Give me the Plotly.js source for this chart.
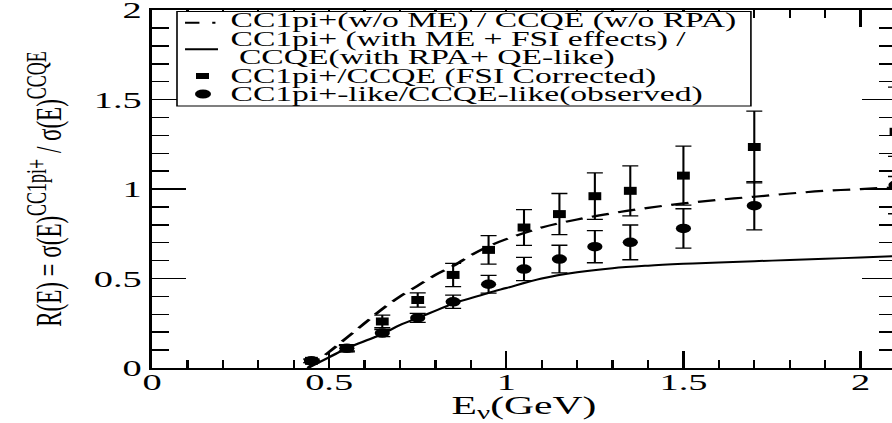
<!DOCTYPE html>
<html>
<head>
<meta charset="utf-8">
<script src="https://cdn.plot.ly/plotly-3.0.1.min.js"></script>
<style>
html, body { margin:0; padding:0; width:892px; height:423px; overflow:hidden; background:#fff; }
#wrap { width:565px; height:423px; transform:scaleX(1.6); transform-origin:0 0; }
</style>
</head>
<body>
<div id="wrap"><div id="plot"></div></div>
<script>
// ---- data ----
const energyPts = [0.45, 0.55, 0.65, 0.75, 0.85, 0.95, 1.05, 1.15, 1.25, 1.35, 1.5, 1.7, 2.1];
const fsiCorrected = [0.04, 0.11, 0.26, 0.38, 0.52, 0.66, 0.785, 0.86, 0.96, 0.99, 1.075, 1.235, 1.32];
const fsiCorrectedErr = [0.01, 0.02, 0.035, 0.04, 0.065, 0.08, 0.10, 0.115, 0.13, 0.14, 0.165, 0.2, 0.25];
const observed = [0.04, 0.11, 0.195, 0.28, 0.37, 0.468, 0.553, 0.609, 0.678, 0.702, 0.78, 0.907, 1.022];
const observedErr = [0.01, 0.015, 0.02, 0.025, 0.037, 0.05, 0.065, 0.077, 0.09, 0.097, 0.11, 0.135, 0.16];

const curveE = [0.44, 0.5, 0.55, 0.6, 0.65, 0.7, 0.75, 0.8, 0.85, 0.9, 0.95, 1.0, 1.1, 1.2, 1.3, 1.4, 1.5, 1.6, 1.7, 1.8, 1.9, 2.0, 2.1];
const ratioNoME = [0, 0.09, 0.17, 0.25, 0.33, 0.40, 0.46, 0.52, 0.57, 0.63, 0.68, 0.72, 0.785, 0.83, 0.865, 0.895, 0.92, 0.94, 0.957, 0.975, 0.99, 1.0, 1.01];
const ratioWithME = [0, 0.06, 0.11, 0.15, 0.19, 0.24, 0.28, 0.32, 0.36, 0.39, 0.42, 0.447, 0.50, 0.535, 0.558, 0.572, 0.582, 0.59, 0.597, 0.603, 0.61, 0.618, 0.625];

const legendLabels = [
  "CC1pi+(w/o ME) / CCQE (w/o RPA)",
  "CC1pi+ (with ME + FSI effects) /",
  " CCQE(with RPA+ QE-like)",
  "CC1pi+/CCQE (FSI Corrected)",
  "CC1pi+-like/CCQE-like(observed)"
];
const xTickVals = [0, 0.5, 1, 1.5, 2];
const xTickText = ["0", "0.5", "1", "1.5", "2"];
const yTickVals = [0, 0.5, 1, 1.5, 2];
const yTickText = ["0", "0.5", "1", "1.5", "2"];

// ---- traces ----
const FONT = "Liberation Serif, Times New Roman, serif";
const traces = [
  { x: curveE, y: ratioNoME, mode: "lines", name: legendLabels[0],
    line: { color: "#000", width: 2.2, dash: "11px,6px", shape: "spline" }, hoverinfo: "skip" },
  { x: curveE, y: ratioWithME, mode: "lines", name: legendLabels[1],
    line: { color: "#000", width: 2, shape: "spline" }, hoverinfo: "skip" },
  { x: energyPts, y: fsiCorrected, mode: "markers", name: legendLabels[3],
    marker: { symbol: "square", size: 8, color: "#000" },
    error_y: { type: "data", array: fsiCorrectedErr, visible: true, color: "#000", thickness: 1.3, width: 5 } },
  { x: energyPts, y: observed, mode: "markers", name: legendLabels[4],
    marker: { symbol: "circle", size: 9.5, color: "#000" },
    error_y: { type: "data", array: observedErr, visible: true, color: "#000", thickness: 1.3, width: 5 } }
];

// ---- hand-made legend (tight line spacing as in the reference) ----
const legTextY = [0.9707, 0.919, 0.8687, 0.8156, 0.764];
const annotations = legendLabels.map((t, i) => ({
  xref: "paper", yref: "paper", x: 0.102, y: legTextY[i],
  xanchor: "left", yanchor: "middle", text: t, showarrow: false,
  font: { family: FONT, size: 21, color: "#000" }
}));
const shapes = [
  { type: "rect", xref: "paper", yref: "paper", x0: 0.0336, x1: 0.805, y0: 0.732, y1: 0.996,
    line: { color: "#000", width: 1 }, fillcolor: "#fff", layer: "above" },
  { type: "line", xref: "paper", yref: "paper", x0: 0.0444, x1: 0.0887, y0: 0.9646, y1: 0.9646,
    line: { color: "#000", width: 2, dash: "9px,8px,2px,10px" }, layer: "above" },
  { type: "line", xref: "paper", yref: "paper", x0: 0.0444, x1: 0.0887, y0: 0.8902, y1: 0.8902,
    line: { color: "#000", width: 2 }, layer: "above" },
  { type: "rect", xref: "paper", yref: "paper", x0: 0.0591, x1: 0.0766, y0: 0.8073, y1: 0.824,
    line: { width: 0 }, fillcolor: "#000", layer: "above" },
  { type: "circle", xref: "paper", yref: "paper", x0: 0.0578, x1: 0.0793, y0: 0.7528, y1: 0.7779,
    line: { width: 0 }, fillcolor: "#000", layer: "above" }
];

const layout = {
  width: 565, height: 423,
  margin: { l: 95, r: 5, t: 10, b: 55 },
  paper_bgcolor: "#fff", plot_bgcolor: "#fff",
  showlegend: false,
  font: { family: FONT, color: "#000" },
  xaxis: {
    range: [0, 2.1], showgrid: false, zeroline: false,
    showline: true, linecolor: "#000", linewidth: 2, mirror: "allticks",
    ticks: "inside", ticklen: 17, tickwidth: 1.5, tickcolor: "#000",
    tickvals: xTickVals, ticktext: xTickText, ticklabelstandoff: -9,
    tickfont: { family: FONT, size: 24, color: "#000" },
    minor: { dtick: 0.1, ticks: "inside", ticklen: 8, tickwidth: 1.5, tickcolor: "#000", showgrid: false },
    title: { text: "E<sub>ν</sub>(GeV)", font: { family: FONT, size: 26, color: "#000" }, standoff: 0 }
  },
  yaxis: {
    range: [0, 2.0005], showgrid: false, zeroline: false,
    showline: true, linecolor: "#000", linewidth: 1.6, mirror: "allticks",
    ticks: "inside", ticklen: 21, tickwidth: 1.5, tickcolor: "#000",
    tickvals: yTickVals, ticktext: yTickText, ticklabeloverflow: "allow",
    tickfont: { family: FONT, size: 24, color: "#000" },
    minor: { dtick: 0.1, ticks: "inside", ticklen: 10.6, tickwidth: 1.5, tickcolor: "#000", showgrid: false },
    title: { text: "R(E) = σ(E)<sup><span style='font-size:18px'>CC1pi+</span></sup> / σ(E)<sup><span style='font-size:18px'>CCQE</span></sup>",
             font: { family: FONT, size: 23, color: "#000" } }
  },
  annotations: annotations,
  shapes: shapes
};

Plotly.newPlot("plot", traces, layout, { staticPlot: true, displayModeBar: false });
</script>
</body>
</html>
